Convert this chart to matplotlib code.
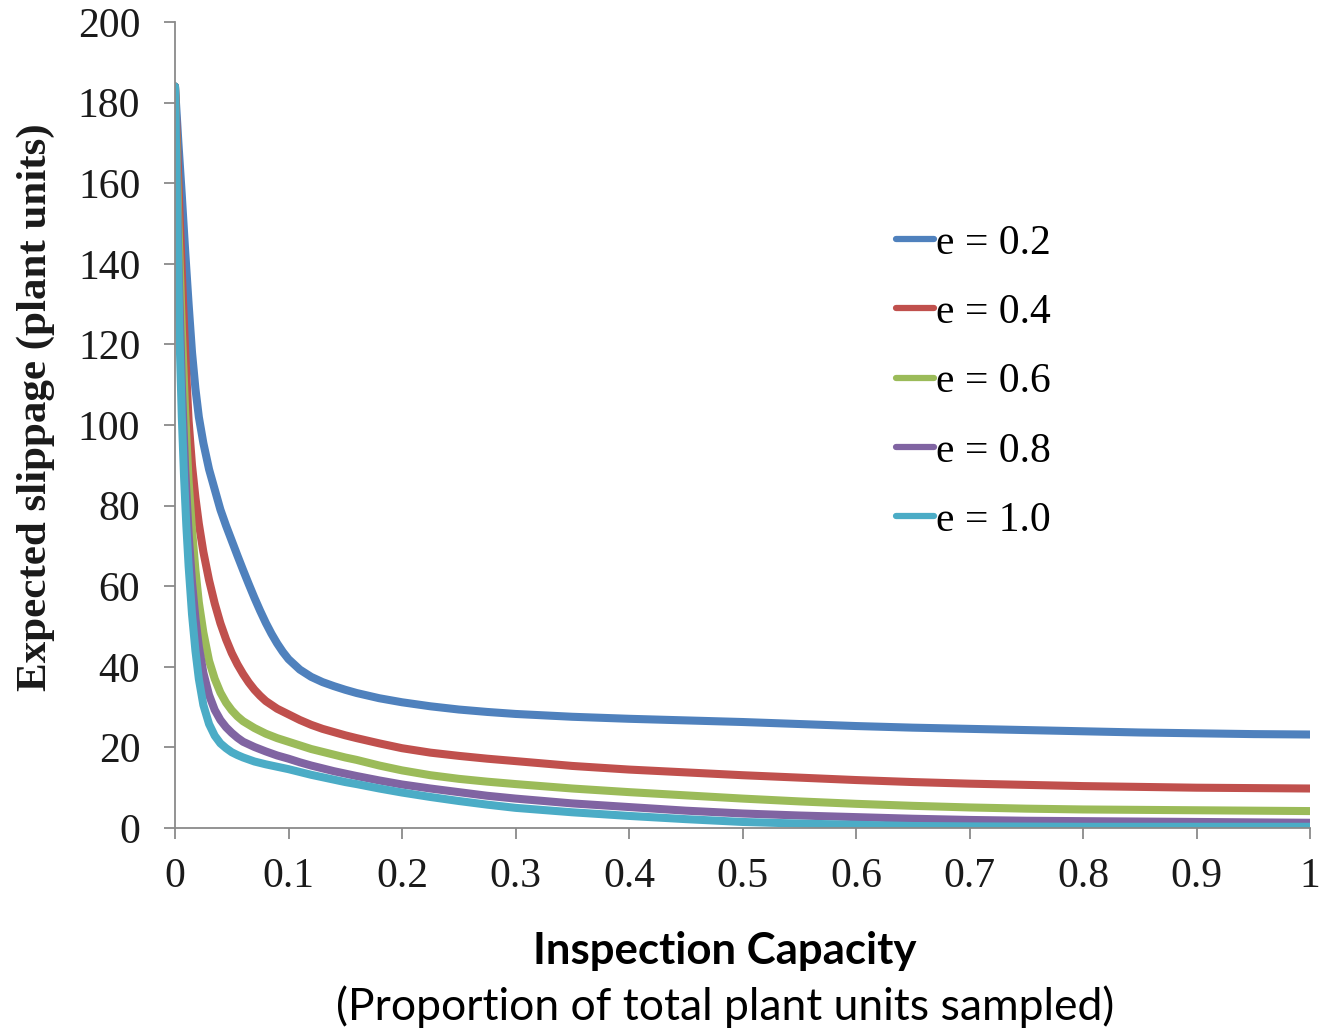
import matplotlib
matplotlib.use("Agg")
import matplotlib.pyplot as plt

# ---- data ----
labels = ["e = 0.2", "e = 0.4", "e = 0.6", "e = 0.8", "e = 1.0"]
colors = ["#4F81BD", "#C0504D", "#9BBB59", "#8064A2", "#4BACC6"]

x_e02 = [0, 0.003, 0.006, 0.009, 0.012, 0.015, 0.018, 0.021, 0.025, 0.03, 0.035, 0.04, 0.045,
         0.05, 0.055, 0.06, 0.065, 0.07, 0.075, 0.08, 0.085, 0.09, 0.095, 0.1, 0.11, 0.12, 0.13,
         0.14, 0.15, 0.16, 0.18, 0.2, 0.225, 0.25, 0.275, 0.3, 0.35, 0.4, 0.45, 0.5, 0.55, 0.6,
         0.65, 0.7, 0.75, 0.8, 0.85, 0.9, 0.95, 1.0]
y_e02 = [184, 170, 157, 143, 130, 118, 109, 102, 95.5, 89, 84, 79, 75,
         71.3, 67.6, 64, 60.5, 57.1, 53.9, 50.9, 48.2, 45.8, 43.7, 41.9, 39.3, 37.5, 36.2,
         35.2, 34.3, 33.5, 32.2, 31.2, 30.2, 29.4, 28.8, 28.3, 27.6, 27.1, 26.7, 26.3, 25.8, 25.3,
         24.9, 24.6, 24.3, 24.0, 23.7, 23.5, 23.3, 23.2]

x_e04 = [0, 0.003, 0.006, 0.009, 0.012, 0.015, 0.018, 0.021, 0.025, 0.03, 0.035, 0.04, 0.045,
         0.05, 0.055, 0.06, 0.065, 0.07, 0.075, 0.08, 0.09, 0.1, 0.11, 0.12, 0.13, 0.14, 0.15,
         0.16, 0.18, 0.2, 0.225, 0.25, 0.275, 0.3, 0.35, 0.4, 0.45, 0.5, 0.55, 0.6, 0.65, 0.7,
         0.75, 0.8, 0.85, 0.9, 0.95, 1.0]
y_e04 = [184, 160, 138, 118, 101, 90, 82, 75.5, 68.5, 61.5, 55.7, 50.8, 46.8,
         43.4, 40.6, 38.2, 36.1, 34.3, 32.8, 31.5, 29.6, 28.2, 26.8, 25.6, 24.6, 23.8, 23.0,
         22.3, 21.0, 19.8, 18.7, 17.9, 17.2, 16.6, 15.4, 14.5, 13.8, 13.1, 12.5, 11.9, 11.4, 11.0,
         10.7, 10.4, 10.2, 10.0, 9.9, 9.8]

x_e06 = [0, 0.003, 0.006, 0.009, 0.012, 0.015, 0.018, 0.021, 0.025, 0.03, 0.035, 0.04, 0.045,
         0.05, 0.055, 0.06, 0.07, 0.08, 0.09, 0.1, 0.11, 0.12, 0.13, 0.14, 0.15, 0.16, 0.18,
         0.2, 0.225, 0.25, 0.275, 0.3, 0.35, 0.4, 0.45, 0.5, 0.55, 0.6, 0.65, 0.7, 0.75, 0.8,
         0.85, 0.9, 0.95, 1.0]
y_e06 = [184, 150, 124, 103, 86, 74, 64, 56, 48.5, 41.5, 37, 33.6, 31.1,
         29.2, 27.7, 26.5, 24.8, 23.4, 22.3, 21.4, 20.5, 19.6, 18.9, 18.2, 17.5, 16.9, 15.5,
         14.3, 13.1, 12.2, 11.5, 10.9, 9.8, 8.9, 8.1, 7.3, 6.6, 6.0, 5.5, 5.1, 4.8, 4.6,
         4.5, 4.4, 4.3, 4.2]

x_e08 = [0, 0.003, 0.006, 0.009, 0.012, 0.015, 0.018, 0.021, 0.025, 0.03, 0.035, 0.04, 0.045,
         0.05, 0.055, 0.06, 0.07, 0.08, 0.09, 0.1, 0.11, 0.12, 0.13, 0.14, 0.15, 0.16, 0.18,
         0.2, 0.225, 0.25, 0.275, 0.3, 0.35, 0.4, 0.45, 0.5, 0.55, 0.6, 0.65, 0.7, 0.75, 0.8,
         0.85, 0.9, 0.95, 1.0]
y_e08 = [184, 140, 110, 89, 73, 61, 52, 45, 38.5, 33, 29.3, 26.8, 25.0,
         23.6, 22.4, 21.4, 20.1, 19.0, 18.0, 17.2, 16.3, 15.5, 14.8, 14.1, 13.5, 12.9, 11.8,
         10.8, 9.8, 8.9, 8.0, 7.3, 6.1, 5.2, 4.3, 3.6, 3.1, 2.7, 2.3, 2.0, 1.8, 1.7,
         1.6, 1.5, 1.4, 1.3]

x_e10 = [0, 0.002, 0.004, 0.006, 0.008, 0.01, 0.012, 0.015, 0.018, 0.021, 0.025, 0.03, 0.035,
         0.04, 0.045, 0.05, 0.055, 0.06, 0.07, 0.08, 0.09, 0.1, 0.11, 0.12, 0.13, 0.14, 0.15,
         0.16, 0.18, 0.2, 0.225, 0.25, 0.275, 0.3, 0.35, 0.4, 0.45, 0.5, 0.55, 0.6, 0.65, 0.7,
         0.75, 0.8, 0.85, 0.9, 0.95, 1.0]
y_e10 = [184, 150, 122, 102, 87, 75, 65, 53, 44, 37, 30.5, 25.8, 22.9,
         21.0, 19.8, 18.8, 18.1, 17.5, 16.5, 15.8, 15.2, 14.6, 13.9, 13.2, 12.6, 12.0, 11.4,
         10.9, 9.8, 8.8, 7.7, 6.7, 5.8, 5.0, 3.9, 3.0, 2.2, 1.5, 1.1, 0.8, 0.5, 0.4,
         0.35, 0.3, 0.3, 0.3, 0.3, 0.3]

series_x = [x_e02, x_e04, x_e06, x_e08, x_e10]
series_y = [y_e02, y_e04, y_e06, y_e08, y_e10]

x_ticks = [0, 0.1, 0.2, 0.3, 0.4, 0.5, 0.6, 0.7, 0.8, 0.9, 1]
x_ticklabels = ["0", "0.1", "0.2", "0.3", "0.4", "0.5", "0.6", "0.7", "0.8", "0.9", "1"]
y_ticks = [0, 20, 40, 60, 80, 100, 120, 140, 160, 180, 200]

# ---- figure ----
W, H = 1324, 1030
fig = plt.figure(figsize=(W / 100, H / 100), dpi=100)
ax = fig.add_axes([175 / W, 1 - 828 / H, (1310 - 175) / W, (828 - 22) / H])

for xs, ys, c, lab in zip(series_x, series_y, colors, labels):
    ax.plot(xs, ys, color=c, lw=5.8, label=lab, solid_capstyle="round",
            solid_joinstyle="round")

ax.set_xlim(0, 1)
ax.set_ylim(0, 200)
ax.set_xticks(x_ticks)
ax.set_xticklabels(x_ticklabels)
ax.set_yticks(y_ticks)

serif = "Liberation Serif"
for s in ["top", "right"]:
    ax.spines[s].set_visible(False)
for s in ["left", "bottom"]:
    ax.spines[s].set_color("#8a8a8a")
    ax.spines[s].set_linewidth(1.3)
ax.tick_params(axis="both", direction="out", color="#8a8a8a", width=1.3,
               length=8, labelcolor="#1a1a1a")
ax.tick_params(axis="y", pad=17)
ax.tick_params(axis="x", pad=13)
for lbl in ax.get_xticklabels() + ax.get_yticklabels():
    lbl.set_fontfamily(serif)
    lbl.set_fontsize(30)

ax.set_ylabel("Expected slippage (plant units)", fontfamily=serif, fontweight="bold",
              fontsize=31, color="#1a1a1a")
ax.yaxis.set_label_coords(-0.106, 0.522)

fig.text(725 / W, 1 - 951 / H, "Inspection Capacity", ha="center", va="center",
         fontfamily="Lato", fontweight="bold", fontsize=31.5, color="black")
fig.text(725 / W, 1 - 1007 / H, "(Proportion of total plant units sampled)", ha="center",
         va="center", fontfamily="Lato", fontsize=32, color="black")

leg = ax.legend(loc="upper left", bbox_to_anchor=(896 / W, 1 - 224 / H),
                bbox_transform=fig.transFigure, frameon=False, prop={"family": serif, "size": 30},
                handlelength=0.9, handletextpad=0.05, labelspacing=0.74, borderpad=0,
                borderaxespad=0)
for h in leg.get_lines():
    h.set_linewidth(4.5)

fig.savefig("out.png", dpi=100, facecolor="white")
